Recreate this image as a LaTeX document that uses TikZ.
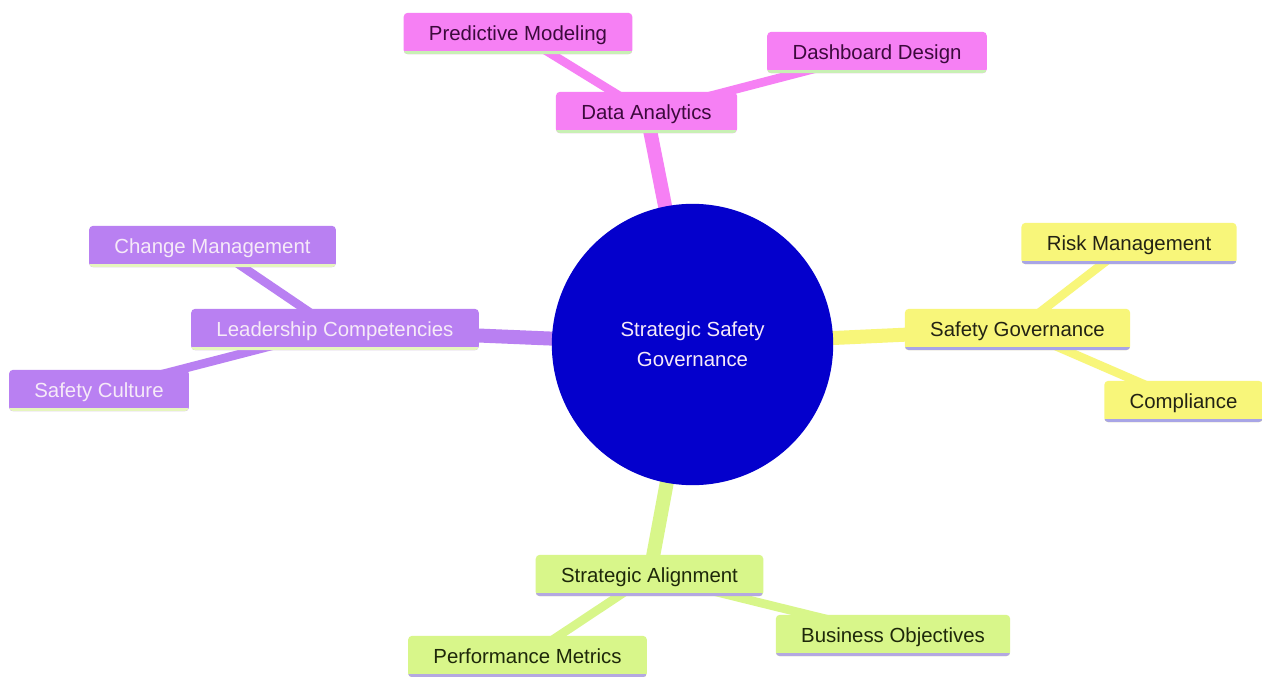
\documentclass[tikz,border=0pt]{standalone}
\usepackage{fontspec}
\setmainfont{Liberation Sans}
\usepackage{xcolor}
\usepackage{tikz}
\usetikzlibrary{calc}
\usetikzlibrary{positioning}
\usetikzlibrary{backgrounds}
\definecolor{rootblue}{RGB}{4,0,204}
\definecolor{pinkbox}{RGB}{246,128,244}
\definecolor{pinkund}{RGB}{200,240,180}
\definecolor{pinktxt}{RGB}{60,10,60}
\definecolor{purpbox}{RGB}{185,128,242}
\definecolor{purpund}{RGB}{230,245,190}
\definecolor{purptxt}{RGB}{246,234,248}
\definecolor{yelbox}{RGB}{248,246,122}
\definecolor{yelund}{RGB}{168,165,230}
\definecolor{yeltxt}{RGB}{35,35,20}
\definecolor{limbox}{RGB}{216,246,138}
\definecolor{limund}{RGB}{180,168,225}
\definecolor{limtxt}{RGB}{30,40,10}
\tikzset{>=latex}
\tikzstyle{box} = [rectangle, rounded corners=3pt, inner xsep=19pt, inner ysep=0pt, minimum height=31pt, text height=11pt, text depth=0pt, font=\fontsize{15.3pt}{22.5pt}\selectfont]
\tikzstyle{und} = [path picture={\draw [line width=4.5pt, draw=#1] (path picture bounding box.south west) -- (path picture bounding box.south east);}]
\tikzstyle{pink} = [box, fill=pinkbox, text=pinktxt, und=pinkund]
\tikzstyle{purp} = [box, fill=purpbox, text=purptxt, und=purpund]
\tikzstyle{yel} = [box, fill=yelbox, text=yeltxt, und=yelund]
\tikzstyle{lim} = [box, fill=limbox, text=limtxt, und=limund]
\tikzstyle{main} = [line width=10.5pt]
\tikzstyle{sub} = [line width=6.5pt]

\begin{document}
\begin{tikzpicture}[x=0.75pt, y=-0.75pt]
\useasboundingbox (0,0) rectangle (1262,677);
% root
\node [circle, fill=rootblue, minimum size=211pt, inner sep=0, align=center, text=purptxt, font=\fontsize{15.3pt}{22.5pt}\selectfont] (R) at (692.5,344.5) {Strategic Safety\\Governance};
% data analytics
\node [pink] (DA) at (646.5,112.5) {Data Analytics};
\node [pink] (PM) at (518,33.5) {Predictive Modeling};
\node [pink] (DD) at (877,52.5) {Dashboard Design};
% leadership
\node [purp] (LC) at (335,329.5) {Leadership Competencies};
\node [purp] (CM) at (212.5,246.5) {Change Management};
\node [purp] (SC) at (99,390.5) {Safety Culture};
% governance
\node [yel] (SG) at (1017.5,329.5) {Safety Governance};
\node [yel] (RM) at (1129,243.5) {Risk Management};
\node [yel] (CO) at (1183.5,401.5) {Compliance};
% alignment
\node [lim] (SA) at (649.5,575.5) {Strategic Alignment};
\node [lim] (PF) at (527.5,656.5) {Performance Metrics};
\node [lim] (BO) at (893,635.5) {Business Objectives};
\begin{pgfonlayer}{background}
\fill [white] (0,0) rectangle (1262,677);
\draw [main, draw=pinkbox] (R.center) -- (DA.center);
\draw [sub, draw=pinkbox] (DA.center) -- (PM.center);
\draw [sub, draw=pinkbox] (DA.center) -- (DD.center);
\draw [main, draw=purpbox] (R.center) -- (LC.center);
\draw [sub, draw=purpbox] (LC.center) -- (CM.center);
\draw [sub, draw=purpbox] (LC.center) -- (SC.center);
\draw [main, draw=yelbox] (R.center) -- (SG.center);
\draw [sub, draw=yelbox] (SG.center) -- (RM.center);
\draw [sub, draw=yelbox] (SG.center) -- (CO.center);
\draw [main, draw=limbox] (R.center) -- (SA.center);
\draw [sub, draw=limbox] (SA.center) -- (PF.center);
\draw [sub, draw=limbox] (SA.center) -- (BO.center);
\end{pgfonlayer}
\end{tikzpicture}
\end{document}
